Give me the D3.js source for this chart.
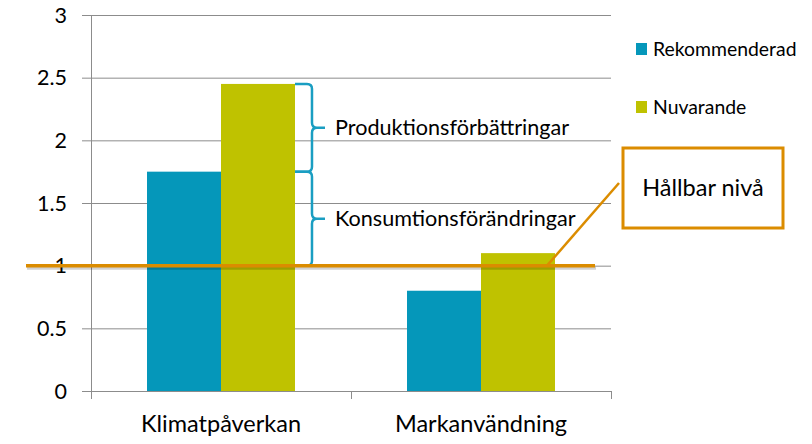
<!DOCTYPE html>
<html><head><meta charset="utf-8">
<script src="https://cdn.jsdelivr.net/npm/d3@7"></script>
<style>body{margin:0;background:#fff}svg{display:block}text{font-family:Lato,"Open Sans",sans-serif;fill:#000}</style>
</head><body>
<svg id="c" width="812" height="444"></svg>
<script>
const categories = ["Klimatpåverkan", "Markanvändning"];
const seriesNames = ["Rekommenderad", "Nuvarande"];
const rekommenderad = [1.75, 0.8];
const nuvarande = [2.45, 1.1];
const yTicks = [0, 0.5, 1, 1.5, 2, 2.5, 3];
const sustainableLevel = 1;
const braceLabels = ["Produktionsförbättringar", "Konsumtionsförändringar"];
const calloutText = "Hållbar nivå";

const colors = ["#0597BA", "#BFC200"];
const orange = "#DB8C00";
const teal = "#1A9EC2";

const svg = d3.select("#c");
const L = 91, R = 611, T = 15, B = 391;
const x = d3.scaleBand().domain(categories).range([L, R]).paddingInner(0).paddingOuter(0);
const xs = d3.scaleBand().domain(seriesNames).range([0, x.bandwidth()]).paddingInner(0).paddingOuter(0.757);
const y = d3.scaleLinear().domain([0, 3]).range([B, T]);

// gridlines
svg.append("g").selectAll("line").data(yTicks).join("line")
  .attr("x1", L - 9).attr("x2", R).attr("y1", d => y(d) + 0.5).attr("y2", d => y(d) + 0.5)
  .attr("stroke", "#8c8c8c").attr("stroke-width", 1);
// y labels
svg.append("g").selectAll("text").data(yTicks).join("text")
  .attr("x", 67).attr("y", d => y(d)).attr("dy", "0.35em").attr("text-anchor", "end")
  .attr("font-size", 21.5).text(d => d);
// y axis line
svg.append("line").attr("x1", L + 0.5).attr("x2", L + 0.5).attr("y1", T).attr("y2", B + 8).attr("stroke", "#8c8c8c");
// x ticks
const xt = [L, L + x.bandwidth(), R];
svg.append("g").selectAll("line").data(xt).join("line")
  .attr("x1", d => d + 0.5).attr("x2", d => d + 0.5).attr("y1", B).attr("y2", B + 8).attr("stroke", "#8c8c8c");

// bars
const data = categories.map((c, i) => ({c, vals: [rekommenderad[i], nuvarande[i]]}));
const g = svg.append("g").selectAll("g").data(data).join("g").attr("transform", d => `translate(${x(d.c)},0)`);
g.selectAll("rect").data(d => d.vals.map((v, j) => ({v, s: seriesNames[j], j}))).join("rect")
  .attr("x", d => xs(d.s)).attr("width", xs.bandwidth())
  .attr("y", d => y(d.v)).attr("height", d => B - y(d.v))
  .attr("fill", d => colors[d.j]);

// category labels
svg.append("g").selectAll("text").data(categories).join("text")
  .attr("x", d => x(d) + x.bandwidth() / 2).attr("y", 432).attr("text-anchor", "middle")
  .attr("font-size", 23.5).text(d => d);

// legend
const lg = svg.append("g").selectAll("g").data(seriesNames).join("g")
  .attr("transform", (d, i) => `translate(636,${49 + i * 58})`);
lg.append("rect").attr("x", 0).attr("y", -6).attr("width", 11).attr("height", 12).attr("fill", (d, i) => colors[i]);
lg.append("text").attr("x", 17).attr("y", 0).attr("dy", "0.35em").attr("font-size", 19.4).text(d => d);

// braces
function brace(x0, yTop, yBot, w, tip) {
  const ym = (yTop + yBot) / 2, xc = x0 + w, r = 5;
  return `M${x0},${yTop} L${xc - r},${yTop} Q${xc},${yTop} ${xc},${yTop + r} L${xc},${ym - r} Q${xc},${ym} ${xc + r},${ym} L${x0 + tip},${ym}
          M${xc + r},${ym} Q${xc},${ym} ${xc},${ym + r} L${xc},${yBot - r} Q${xc},${yBot} ${xc - r},${yBot} L${x0},${yBot}`;
}
const bx = x(categories[0]) + xs(seriesNames[1]) + xs.bandwidth();
const braceRanges = [[nuvarande[0], rekommenderad[0]], [rekommenderad[0], sustainableLevel]];
braceRanges.forEach((r, i) => {
  svg.append("path").attr("d", brace(bx, y(r[0]), y(r[1]), 17, 30))
    .attr("fill", "none").attr("stroke", teal).attr("stroke-width", 2.5);
  svg.append("text").attr("x", 335).attr("y", (y(r[0]) + y(r[1])) / 2).attr("dy", "0.35em")
    .attr("font-size", 21.6).text(braceLabels[i]);
});

// sustainable level line with shadow
svg.append("line").attr("x1", 27).attr("x2", 596).attr("y1", y(sustainableLevel) + 2.5).attr("y2", y(sustainableLevel) + 2.5)
  .attr("stroke", "#000").attr("stroke-opacity", 0.18).attr("stroke-width", 3);
svg.append("line").attr("x1", 26).attr("x2", 595).attr("y1", y(sustainableLevel)).attr("y2", y(sustainableLevel))
  .attr("stroke", orange).attr("stroke-width", 3.5);

// callout
svg.append("line").attr("x1", 547).attr("y1", y(sustainableLevel)).attr("x2", 619).attr("y2", 183)
  .attr("stroke", orange).attr("stroke-width", 2.5);
svg.append("rect").attr("x", 623).attr("y", 148).attr("width", 160).attr("height", 80)
  .attr("fill", "#fff").attr("stroke", orange).attr("stroke-width", 3);
svg.append("text").attr("x", 703).attr("y", 188).attr("dy", "0.35em").attr("text-anchor", "middle")
  .attr("font-size", 23.5).text(calloutText);
</script>
</body></html>
